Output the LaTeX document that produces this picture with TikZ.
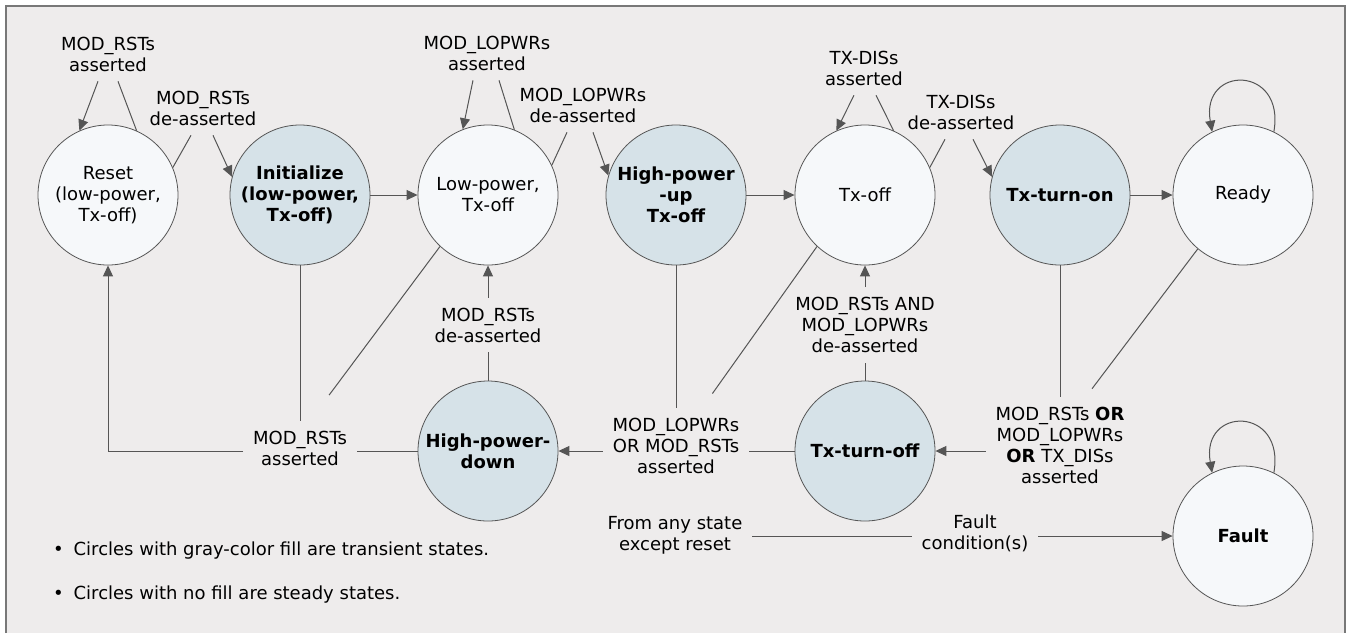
\documentclass[tikz,border=0pt]{standalone}
\usepackage{fontspec}
\setmainfont{DejaVu Sans}
\usetikzlibrary{arrows.meta}
\definecolor{bgc}{RGB}{238,236,236}
\definecolor{framec}{RGB}{120,120,120}
\definecolor{linec}{RGB}{85,85,85}
\definecolor{steadyc}{RGB}{246,248,250}
\definecolor{transc}{RGB}{214,226,232}
\newcommand{\lf}{\fontsize{9}{10.5}\selectfont}

\begin{document}
\begin{tikzpicture}[x=0.5pt,y=-0.5pt,
   every node/.style={font=\lf},
   steady/.style={circle,draw=linec,fill=steadyc,minimum size=70pt,inner sep=0pt,align=center},
   transient/.style={steady,fill=transc,font=\lf\bfseries},
   lbl/.style={align=center,inner sep=2pt,outer sep=3pt},
   wire/.style={draw=linec,line width=0.5pt},
   >={Triangle[length=5.5pt,width=5pt]}]
   % background and frame
   \fill[white] (0,0) rectangle (1350,633);
   \fill[bgc] (6,6) rectangle (1345,633);
   \draw[framec,line width=0.8pt] (6,633) -- (6,6) -- (1345,6) -- (1345,633);

   % states
   \node[steady]    (reset)  at (108,195)  {Reset\\(low-power,\\Tx-off)};
   \node[transient] (init)   at (300,195)  {Initialize\\(low-power,\\Tx-off)};
   \node[steady]    (lowpwr) at (488,195)  {Low-power,\\Tx-off};
   \node[transient] (hpup)   at (676,195)  {High-power\\-up\\Tx-off};
   \node[steady]    (txoff)  at (865,195)  {Tx-off};
   \node[transient] (txon)   at (1060,195) {Tx-turn-on};
   \node[steady]    (ready)  at (1243,195) {Ready};
   \node[transient] (hpdown) at (488,451)  {High-power-\\down};
   \node[transient] (txdown) at (865,451)  {Tx-turn-off};
   \node[steady,font=\lf\bfseries] (fault) at (1243,536) {Fault};

   % conditions
   \node[lbl] (rstL)  at (108,54)   {MOD\_RSTs\\asserted};
   \node[lbl] (rstB)  at (203,108)  {MOD\_RSTs\\de-asserted};
   \node[lbl] (lopL)  at (487,53)   {MOD\_LOPWRs\\asserted};
   \node[lbl] (lopB)  at (583,105)  {MOD\_LOPWRs\\de-asserted};
   \node[lbl] (disL)  at (864,68)   {TX-DISs\\asserted};
   \node[lbl] (disB)  at (961,112)  {TX-DISs\\de-asserted};
   \node[lbl] (rstA)  at (300,448)  {MOD\_RSTs\\asserted};
   \node[lbl] (rstD)  at (488,325)  {MOD\_RSTs\\de-asserted};
   \node[lbl] (hplbl) at (676,446)  {MOD\_LOPWRs\\OR MOD\_RSTs\\asserted};
   \node[lbl] (bothD) at (865,325)  {MOD\_RSTs AND\\MOD\_LOPWRs\\de-asserted};
   \node[lbl] (anyA)  at (1060,445) {MOD\_RSTs \textbf{OR}\\MOD\_LOPWRs\\\textbf{OR} TX\_DISs\\asserted};
   \node[lbl] (fromany) at (675,535) {From any state\\except reset};
   \node[lbl] (faultc)  at (975,533) {Fault\\condition(s)};

   % notes
   \node[anchor=west] (note1) at (46,551) {\textbullet\hspace{5pt}Circles with gray-color fill are transient states.};
   \node[anchor=west] (note2) at (46,595) {\textbullet\hspace{5pt}Circles with no fill are steady states.};

   % top row
   \draw[wire] (reset.66) -- ([xshift=5pt]rstL.south);
   \draw[wire,->] ([xshift=-5pt]rstL.south) -- (reset.114);
   \draw[wire] (reset.23) -- ([xshift=-6pt]rstB.south);
   \draw[wire,->] ([xshift=5pt]rstB.south) -- (init.165);
   \draw[wire,->] (init) -- (lowpwr);
   \draw[wire] (lowpwr.68) -- ([xshift=6pt]lopL.south);
   \draw[wire,->] ([xshift=-7pt]lopL.south) -- (lowpwr.111);
   \draw[wire] (lowpwr.25) -- ([xshift=-8pt]lopB.south);
   \draw[wire,->] ([xshift=5pt]lopB.south) -- (hpup.164);
   \draw[wire,->] (hpup) -- (txoff);
   \draw[wire] (txoff.66) -- ([xshift=6pt]disL.south);
   \draw[wire,->] ([xshift=-5pt]disL.south) -- (txoff.114);
   \draw[wire] (txoff.23) -- ([xshift=-8pt]disB.south);
   \draw[wire,->] ([xshift=6pt]disB.south) -- (txon.165);
   \draw[wire,->] (txon) -- (ready);
   \draw[wire,->] (ready.64) .. controls +(80:34pt) and +(100:34pt) .. (ready.116);

   % back to reset
   \draw[wire] (init.south) -- (rstA.north);
   \draw[wire,shorten >=16pt] (lowpwr.227) -- ([xshift=5pt]rstA.north);
   \draw[wire] (hpdown) -- (rstA.east |- hpdown);
   \draw[wire,->] (rstA.west |- hpdown) -| (reset.south);

   % high-power-down
   \draw[wire] (hpdown.north) -- (rstD.south);
   \draw[wire,->] (rstD.north) -- (lowpwr.south);
   \draw[wire] (hpup.south) -- (hplbl.north);
   \draw[wire,shorten >=9pt] (txoff.227) -- ([xshift=13pt]hplbl.north);
   \draw[wire] (txdown) -- (hplbl.east |- txdown);
   \draw[wire,->] (hplbl.west |- hpdown) -- (hpdown);

   % tx-turn-off
   \draw[wire] (txdown.north) -- (bothD.south);
   \draw[wire,->] (bothD.north) -- (txoff.south);
   \draw[wire] (txon.south) -- (anyA.north);
   \draw[wire,shorten >=5pt] (ready.230) -- ([xshift=13pt]anyA.north);
   \draw[wire,->] (anyA.west |- txdown) -- (txdown);

   % fault
   \draw[wire] (fromany.east |- fault) -- (faultc.west |- fault);
   \draw[wire,->] (faultc.east |- fault) -- (fault);
   \draw[wire,->] (fault.64) .. controls +(80:34pt) and +(100:34pt) .. (fault.116);
\end{tikzpicture}
\end{document}
